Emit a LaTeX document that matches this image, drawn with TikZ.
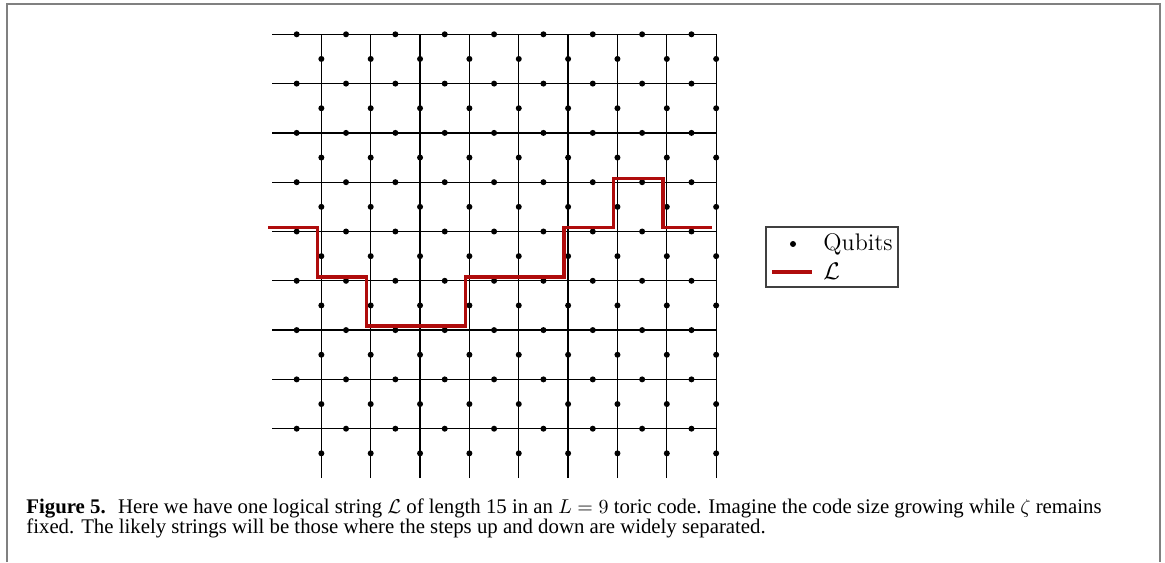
\documentclass[tikz,border=0pt]{standalone}
\usepackage{fontspec}
\newfontfamily\capfont{Liberation Serif}
\definecolor{stringred}{RGB}{175,12,12}
\definecolor{framegray}{RGB}{128,128,128}
\usetikzlibrary{positioning}

\begin{document}
\begin{tikzpicture}[x=0.5pt,y=0.5pt,
    lattice/.style={line width=0.65pt,black},
    qubit/.style={circle,fill=black,inner sep=0pt,minimum size=3pt},
    logical/.style={line width=1.7pt,stringred},
    legend/.style={rectangle,draw=black!75,line width=0.6pt,inner sep=0pt,minimum width=66pt,minimum height=30pt},
    caption/.style={anchor=base west,inner sep=0pt,font=\capfont\fontsize{10.4}{12}\selectfont}
]
    \useasboundingbox (0,0) rectangle (1165,562);
    \draw[framegray,line width=1pt] (6.5,0) |- (1160,558) -- (1160,0);

    % toric lattice, 9x9
    \begin{scope}[shift={(272,84)},x=24.675pt,y=24.65pt]
        \foreach \j in {1,...,9} \draw[lattice] (0,\j) -- (9,\j);
        \foreach \i in {1,...,9} \draw[lattice] (\i,0) -- (\i,9);
        \foreach \i in {1,...,9} \foreach \j in {1,...,9} {
            \node[qubit] (h\i\j) at (\i-0.5,\j) {};
            \node[qubit] (v\i\j) at (\i,\j-0.5) {};
        }
        % logical string
        \draw[logical,shift={(-0.08,0.08)}] (0,5) -| (1,4) -| (2,3) -| (4,4) -| (6,5) -| (7,6) -| (8,5) -- (9,5);
    \end{scope}

    % legend
    \node[legend] (key) at (832,305) {};
    \node[qubit] (keydot) at (793,318) {};
    \node[anchor=base west,inner sep=0pt,font=\fontsize{12}{14}\selectfont] (keyq) at (823,311) {Qubits};
    \coordinate (keya) at (772,290);
    \coordinate (keyb) at (812,290);
    \draw[logical] (keya) -- (keyb);
    \node[anchor=base west,inner sep=0pt,font=\fontsize{12}{14}\selectfont] (keyl) at (823,282) {$\mathcal{L}$};

    % caption
    \node[caption] (cap1) at (26,49) {\textbf{Figure 5.}\hspace{0.6em}Here we have one logical string $\mathcal{L}$ of length 15 in an $L=9$ toric code. Imagine the code size growing while $\zeta$ remains};
    \node[caption] (cap2) at (26,29) {fixed. The likely strings will be those where the steps up and down are widely separated.};
\end{tikzpicture}
\end{document}
